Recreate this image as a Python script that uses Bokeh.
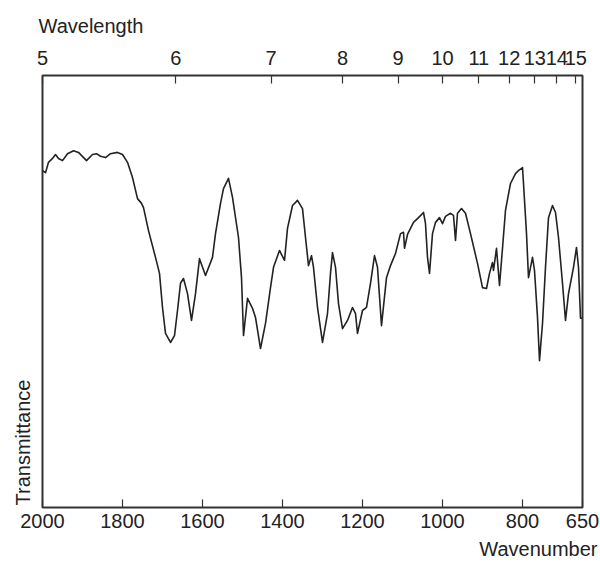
import math
from bokeh.plotting import figure
from bokeh.models import LinearAxis, FixedTicker, CustomJSTickFormatter, Title
from bokeh.embed import file_html
from bokeh.resources import INLINE

# Spectrum: wavenumber (cm-1) and transmittance (%)
wavenumber = [2000, 1992.5, 1985, 1975, 1967.5, 1960, 1950, 1937.5, 1922.5, 1910,
              1890, 1875, 1865, 1855, 1842.5, 1830, 1812.5, 1800, 1787.5, 1775,
              1762.5, 1752.5, 1747.5, 1735, 1717.5, 1707.5, 1700, 1692.5, 1680, 1670,
              1662.5, 1655, 1647.5, 1637.5, 1627.5, 1617.5, 1607.5, 1592.5, 1575, 1567.5,
              1555, 1547.5, 1535, 1525, 1510, 1502.5, 1497.5, 1487.5, 1475, 1467.5,
              1455, 1442.5, 1430, 1422.5, 1407.5, 1395, 1387.5, 1375, 1362.5, 1350,
              1342.5, 1335, 1327.5, 1322.5, 1312.5, 1300, 1287.5, 1280, 1275, 1267.5,
              1260, 1250, 1237.5, 1225, 1217.5, 1212.5, 1200, 1190, 1180, 1170,
              1162.5, 1152.5, 1140, 1130, 1117.5, 1105, 1097.5, 1095, 1087.5, 1072.5,
              1060, 1047.5, 1042.5, 1037.5, 1032.5, 1025, 1017.5, 1007.5, 1000, 992.5,
              980, 972.5, 967.5, 962.5, 952.5, 942.5, 930, 912.5, 900, 890,
              882.5, 875, 872.5, 865, 857.5, 850, 842.5, 830, 817.5, 810,
              800, 797.5, 790, 785, 775, 770, 762.5, 757.5, 750, 742.5,
              735, 725, 717.5, 710, 700, 692.5, 685, 672.5, 665, 660,
              655, 650]
transmittance = [78.0, 77.5, 79.9, 80.8, 81.7, 80.8, 80.3, 81.9, 82.6, 82.2,
                 80.3, 81.7, 81.9, 81.3, 81.0, 81.9, 82.2, 81.7, 79.9, 76.4,
                 71.5, 70.4, 69.4, 64.1, 57.9, 54.2, 46.3, 40.3, 38.2, 39.8,
                 45.6, 51.9, 53.0, 49.5, 43.3, 49.5, 57.6, 53.7, 57.9, 63.4,
                 70.4, 73.8, 76.2, 71.8, 62.5, 53.2, 39.8, 48.4, 46.1, 44.0,
                 36.8, 42.6, 50.9, 55.6, 59.5, 57.2, 64.6, 69.9, 71.1, 69.2,
                 62.5, 56.0, 58.3, 55.6, 46.3, 38.2, 44.9, 54.2, 59.0, 55.6,
                 47.2, 41.4, 43.3, 46.3, 44.9, 40.3, 45.6, 46.3, 51.9, 58.3,
                 55.6, 42.1, 53.2, 56.0, 58.8, 63.4, 63.7, 60.0, 63.2, 66.0,
                 67.1, 68.3, 65.7, 57.9, 54.2, 63.4, 66.0, 67.1, 65.7, 67.4,
                 68.1, 67.6, 61.8, 68.1, 69.2, 68.1, 63.4, 56.5, 50.9, 50.7,
                 54.2, 56.7, 54.9, 60.0, 51.4, 60.0, 68.8, 75.0, 77.3, 78.0,
                 78.7, 75.0, 63.4, 53.2, 57.9, 54.9, 44.0, 34.0, 42.6, 55.6,
                 67.1, 69.9, 68.3, 62.5, 51.9, 43.3, 49.5, 55.6, 60.2, 55.6,
                 43.8, 43.8]

wavenumber_ticks = [2000, 1800, 1600, 1400, 1200, 1000, 800, 650]
wavelength_ticks = [5, 6, 7, 8, 9, 10, 11, 12, 13, 14, 15]

FONT = "Liberation Sans"
INK = "#222222"

p = figure(width=600, height=567, x_range=(2000, 650), y_range=(0, 100),
           x_axis_location=None, y_axis_location=None,
           output_backend="svg", toolbar_location=None,
           min_border_left=42, min_border_right=18,
           min_border_top=75, min_border_bottom=60)
p.grid.visible = False
p.outline_line_color = "#333333"
p.outline_line_width = 2
p.background_fill_color = "white"
p.border_fill_color = "white"

p.line(wavenumber, transmittance, line_color=INK, line_width=1.6, line_join="round")

def style_axis(ax, standoff):
    ax.axis_line_color = None
    ax.major_tick_in = 8
    ax.major_tick_out = 0
    ax.major_tick_line_color = "#333333"
    ax.major_tick_line_width = 1.2
    ax.minor_tick_line_color = None
    ax.major_label_text_font = FONT
    ax.major_label_text_font_size = "20px"
    ax.major_label_text_color = INK
    ax.major_label_standoff = standoff

bottom = LinearAxis(ticker=FixedTicker(ticks=wavenumber_ticks))
style_axis(bottom, 6)
p.add_layout(bottom, "below")

top = LinearAxis(ticker=FixedTicker(ticks=[10000.0 / w for w in wavelength_ticks]),
                 formatter=CustomJSTickFormatter(code="return String(Math.round(10000 / tick));"))
style_axis(top, 11)
p.add_layout(top, "above")

title_kw = dict(text_font=FONT, text_font_size="20px", text_color=INK,
                text_font_style="normal")
p.add_layout(Title(text="Wavelength", align="left", offset=-4, standoff=21, **title_kw), "above")
p.add_layout(Title(text="Wavenumber", align="right", offset=-15, standoff=10, **title_kw), "below")
p.add_layout(Title(text="Transmittance", align="left", offset=2, standoff=17, **title_kw), "left")

open("out.html", "w").write(file_html(p, INLINE))
